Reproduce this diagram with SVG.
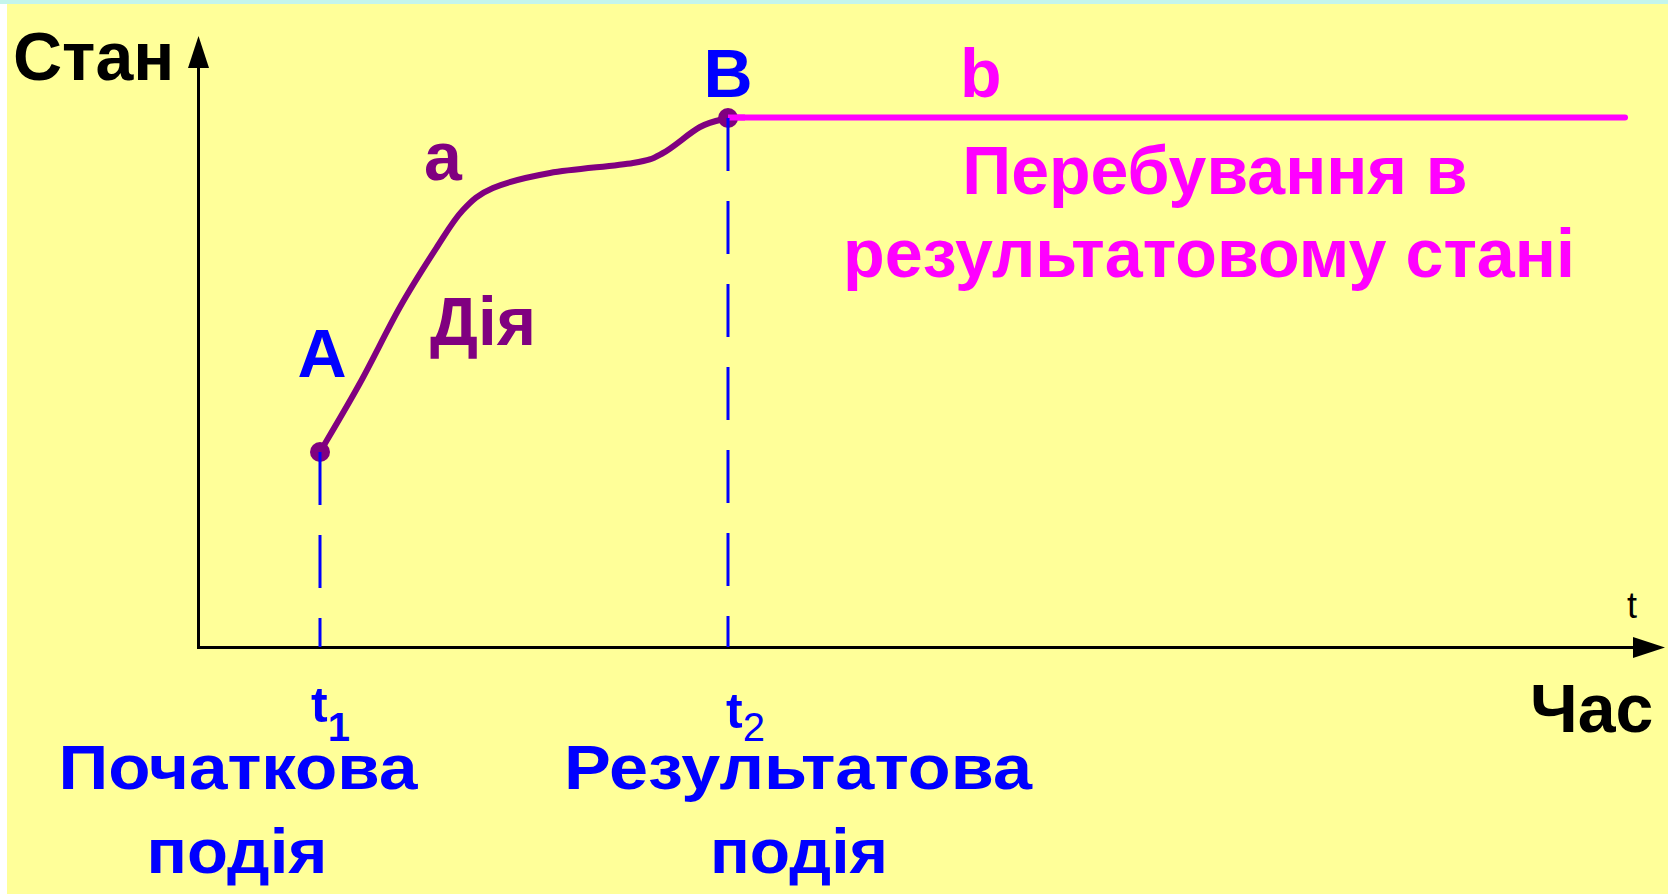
<svg xmlns="http://www.w3.org/2000/svg" width="1668" height="894" viewBox="0 0 1668 894">
<defs>
<style>
.t{font-family:"Liberation Sans",Arial,sans-serif;font-weight:bold;}
.big{font-size:68px;}
.mid{font-size:63px;}
.blue{fill:#0000ff;}
.purple{fill:#800080;}
.mag{fill:#ff00ff;}
.blk{fill:#000;}
.dash{stroke:#0000ff;stroke-width:3;stroke-dasharray:53 30;fill:none;}
</style>
<marker id="arr" markerUnits="userSpaceOnUse" markerWidth="32" markerHeight="21" refX="0" refY="10.5" orient="auto-start-reverse" viewBox="0 0 32 21">
<path d="M0,0 L32,10.5 L0,21 Z" fill="#000"/>
</marker>
</defs>
<rect x="0" y="0" width="1668" height="894" fill="#ffff99"/>
<rect x="0" y="0" width="7" height="894" fill="#ffffff"/>
<rect x="0" y="0" width="1668" height="4" fill="#c4f5ec"/>

<g id="axes">
<path d="M198.5,68 V647.5 H1633" fill="none" stroke="#000" stroke-width="3" marker-start="url(#arr)" marker-end="url(#arr)"/>
<text class="t big blk" x="13" y="80">Стан</text>
<text class="t big blk" x="1530" y="732">Час</text>
<text x="1627" y="618" font-family="Liberation Sans, Arial, sans-serif" font-size="36" fill="#000">t</text>
</g>

<g id="connectors">
<path d="M320,452 C326.7,440.5 346.7,407.2 360,383 C373.3,358.8 387.2,329.7 400,307 C412.8,284.3 426.5,263.2 437,247 C447.5,230.8 453.7,219.8 463,210 C472.3,200.2 478.5,194.2 493,188 C507.5,181.8 526.7,177.2 550,173 C573.3,168.8 614.2,166.3 633,163 C651.8,159.7 651.8,159 663,153 C674.2,147 689.2,132.8 700,127 C710.8,121.2 723.3,119.5 728,118" fill="none" stroke="#800080" stroke-width="6" stroke-linecap="round"/>
<line x1="728" y1="117.5" x2="1625" y2="117.5" stroke="#ff00ff" stroke-width="6" stroke-linecap="round"/>
</g>

<g id="node-A">
<circle cx="320" cy="452" r="10" fill="#800080"/>
<line class="dash" x1="320" y1="452" x2="320" y2="647"/>
<text class="t big blue" x="322" y="377" text-anchor="middle">A</text>
</g>
<g id="node-B">
<circle cx="728" cy="118" r="10" fill="#800080"/>
<line x1="728" y1="117.5" x2="745" y2="117.5" stroke="#ff00ff" stroke-width="6"/>
<line class="dash" x1="728" y1="118" x2="728" y2="647"/>
<text class="t big blue" x="728" y="97" text-anchor="middle">B</text>
</g>

<g id="label-action">
<text class="t big purple" x="424" y="180">a</text>
<text class="t big purple" x="430" y="345" textLength="106" lengthAdjust="spacingAndGlyphs">Дія</text>
</g>
<g id="label-state">
<text class="t big mag" x="960" y="97">b</text>
<text class="t big mag" x="1215" y="194" text-anchor="middle">Перебування в</text>
<text class="t big mag" x="1209" y="277" text-anchor="middle" textLength="732" lengthAdjust="spacingAndGlyphs">результатовому стані</text>
</g>

<g id="event-start">
<text class="t blue" x="311" y="722" font-size="50">t<tspan font-size="40" dy="19">1</tspan></text>
<text class="t mid blue" x="238" y="789" text-anchor="middle" textLength="359" lengthAdjust="spacingAndGlyphs">Початкова</text>
<text class="t mid blue" x="237" y="873" text-anchor="middle" textLength="181" lengthAdjust="spacingAndGlyphs">подія</text>
</g>
<g id="event-result">
<text class="t blue" x="726" y="728" font-size="50">t<tspan font-size="40" font-weight="normal" dy="13">2</tspan></text>
<text class="t mid blue" x="798" y="789" text-anchor="middle" textLength="468" lengthAdjust="spacingAndGlyphs">Результатова</text>
<text class="t mid blue" x="799" y="873" text-anchor="middle" textLength="178" lengthAdjust="spacingAndGlyphs">подія</text>
</g>
</svg>
